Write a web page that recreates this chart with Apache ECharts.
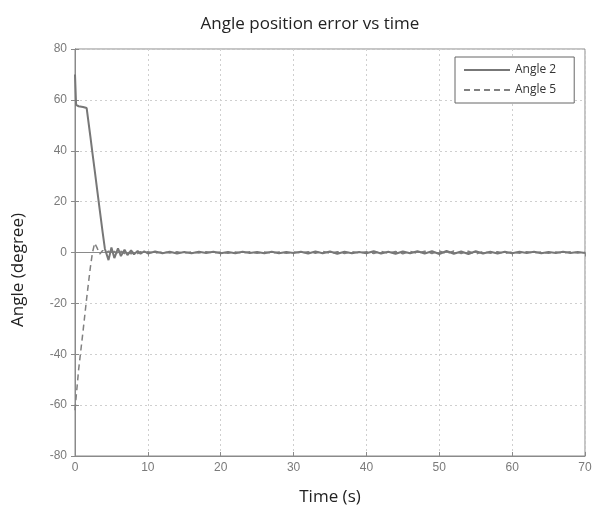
<!DOCTYPE html>
<html>
<head>
<meta charset="UTF-8">
<title>Angle position error vs time</title>
<script src="https://cdn.jsdelivr.net/npm/echarts@6/dist/echarts.min.js"></script>
<style>
  html, body { margin: 0; padding: 0; background: #fff; }
  #chart { width: 598px; height: 513px; }
</style>
</head>
<body>
<div id="chart"></div>
<script>
// time samples (s)
const time = [
  0, 0.15, 0.5, 1.1, 1.6, 2.1, 2.4, 2.7, 3.0, 3.4, 3.8, 4.1, 4.6, 5.0, 5.4,
  5.9, 6.3, 6.8, 7.2, 7.7, 8.1, 8.6, 9.0, 9.5, 10,
  11, 12, 13, 14, 15, 16, 17, 18, 19, 20,
  21, 22, 23, 24, 25, 26, 27, 28, 29, 30,
  31, 32, 33, 34, 35, 36, 37, 38, 39, 40,
  41, 42, 43, 44, 45, 46, 47, 48, 49, 50,
  51, 52, 53, 54, 55, 56, 57, 58, 59, 60,
  61, 62, 63, 64, 65, 66, 67, 68, 69, 70
];

// Angle 2 error (degree)
const angle2 = [
  70, 58, 57.5, 57.2, 56.8, 45.8, 39, 32.4, 25.6, 16.7, 7.8, 1.5, -3, 2, -2.2,
  1.6, -1.4, 1.1, -1.0, 0.8, -0.7, 0.6, -0.5, 0.5, -0.4,
  0.4, -0.3, 0.3, -0.4, 0.2, -0.3, 0.3, -0.2, 0.3, -0.3,
  0.2, -0.3, 0.3, -0.2, 0.2, -0.3, 0.3, -0.3, 0.2, -0.2,
  0.3, -0.4, 0.4, -0.3, 0.4, -0.5, 0.3, -0.3, 0.2, -0.3,
  0.5, -0.4, 0.3, -0.5, 0.4, -0.3, 0.5, -0.4, 0.5, -0.6,
  0.6, -0.5, 0.4, -0.6, 0.5, -0.4, 0.3, -0.4, 0.3, -0.3,
  0.3, -0.2, 0.3, -0.3, 0.2, -0.2, 0.3, -0.2, 0.2, -0.2
];

// Angle 5 error (degree)
const angle5 = [
  -62, -57, -46, -31, -18, -6, 0, 3.7, 2.0, -0.6, 0.8, -0.5, 0.6, -0.7, 0.5,
  -0.6, 0.5, -0.4, 0.4, -0.5, 0.3, -0.4, 0.3, -0.3, 0.3,
  -0.3, 0.3, -0.2, 0.3, -0.3, 0.2, -0.2, 0.3, -0.2, 0.2,
  -0.3, 0.2, -0.2, 0.3, -0.3, 0.2, -0.2, 0.2, -0.3, 0.2,
  -0.2, 0.3, -0.3, 0.4, -0.3, 0.3, -0.4, 0.3, -0.2, 0.3,
  -0.4, 0.5, -0.3, 0.4, -0.5, 0.4, -0.3, 0.5, -0.4, 0.6,
  -0.5, 0.6, -0.4, 0.5, -0.6, 0.4, -0.3, 0.3, -0.4, 0.2,
  -0.3, 0.3, -0.2, 0.2, -0.3, 0.2, -0.2, 0.3, -0.2, 0.2
];

const xTicks = [0, 10, 20, 30, 40, 50, 60, 70];
const yTicks = [-80, -60, -40, -20, 0, 20, 40, 60, 80];

const frameColor = '#8a8a8a';
const labelColor = '#7a7a7a';

const chart = echarts.init(document.getElementById('chart'), null, { renderer: 'canvas' });

function frameAxis(extra) {
  return Object.assign({
    axisLine: { show: true, lineStyle: { color: frameColor, width: 1 } },
    axisTick: { show: true, inside: true, length: 4, lineStyle: { color: frameColor } },
    splitLine: { show: false },
    axisLabel: { show: false }
  }, extra);
}

const option = {
  backgroundColor: '#fff',
  animation: false,
  title: {
    text: 'Angle position error vs time',
    left: 305,
    textAlign: 'center',
    top: 11,
    textStyle: { fontFamily: 'Open Sans', fontSize: 17, fontWeight: 'normal', color: '#222' }
  },
  grid: {
    left: 75, right: 13, top: 49, bottom: 57,
    show: true, borderColor: frameColor, borderWidth: 1
  },
  legend: {
    left: 455, top: 57,
    orient: 'vertical',
    padding: [7, 18, 7, 8],
    itemGap: 8,
    itemWidth: 46,
    itemHeight: 10,
    borderColor: '#666', borderWidth: 1,
    backgroundColor: '#fff',
    itemStyle: { opacity: 0 },
    textStyle: { fontFamily: 'Open Sans', fontSize: 12, color: '#333' },
    data: ['Angle 2', 'Angle 5']
  },
  xAxis: [{
    type: 'value',
    min: 0, max: 70, interval: 10,
    name: 'Time (s)',
    nameLocation: 'middle',
    nameGap: 33,
    nameTextStyle: { fontFamily: 'Open Sans', fontSize: 17, color: '#222' },
    axisLine: { show: true, onZero: false, lineStyle: { color: frameColor } },
    axisTick: { show: true, inside: true, length: 4, lineStyle: { color: frameColor } },
    axisLabel: {
      color: labelColor, fontFamily: 'Liberation Sans', fontSize: 12, margin: 6,
      formatter: v => xTicks.includes(v) ? String(v) : ''
    },
    splitLine: { show: true, lineStyle: { color: '#cfcfcf', type: [2, 3], width: 1 } }
  }, frameAxis({
    type: 'value', position: 'top', min: 0, max: 70, interval: 10
  })],
  yAxis: [{
    type: 'value',
    min: -80, max: 80, interval: 20,
    axisLine: { show: true, onZero: false, lineStyle: { color: frameColor } },
    axisTick: { show: true, inside: true, length: 4, lineStyle: { color: frameColor } },
    axisLabel: {
      color: labelColor, fontFamily: 'Liberation Sans', fontSize: 12, margin: 8,
      formatter: v => yTicks.includes(v) ? String(v) : ''
    },
    splitLine: { show: true, lineStyle: { color: '#cfcfcf', type: [2, 3], width: 1 } }
  }, frameAxis({
    type: 'value', position: 'right', min: -80, max: 80, interval: 20
  })],
  graphic: [{
    type: 'text',
    x: 18, y: 270,
    rotation: Math.PI / 2,
    style: {
      text: 'Angle (degree)',
      fontFamily: 'Open Sans', fontSize: 17, fill: '#222',
      align: 'center', verticalAlign: 'middle'
    }
  }],
  series: [{
    name: 'Angle 2',
    type: 'line',
    xAxisIndex: 0, yAxisIndex: 0,
    data: time.map((t, i) => [t, angle2[i]]),
    showSymbol: false, symbol: 'none',
    lineStyle: { color: '#777', width: 2, type: 'solid' },
    itemStyle: { color: '#777' },
    z: 3
  }, {
    name: 'Angle 5',
    type: 'line',
    xAxisIndex: 0, yAxisIndex: 0,
    data: time.map((t, i) => [t, angle5[i]]),
    showSymbol: false, symbol: 'none',
    lineStyle: { color: '#808080', width: 1.5, type: [6, 4] },
    itemStyle: { color: '#808080' },
    z: 2
  }]
};

chart.setOption(option);
</script>
</body>
</html>
